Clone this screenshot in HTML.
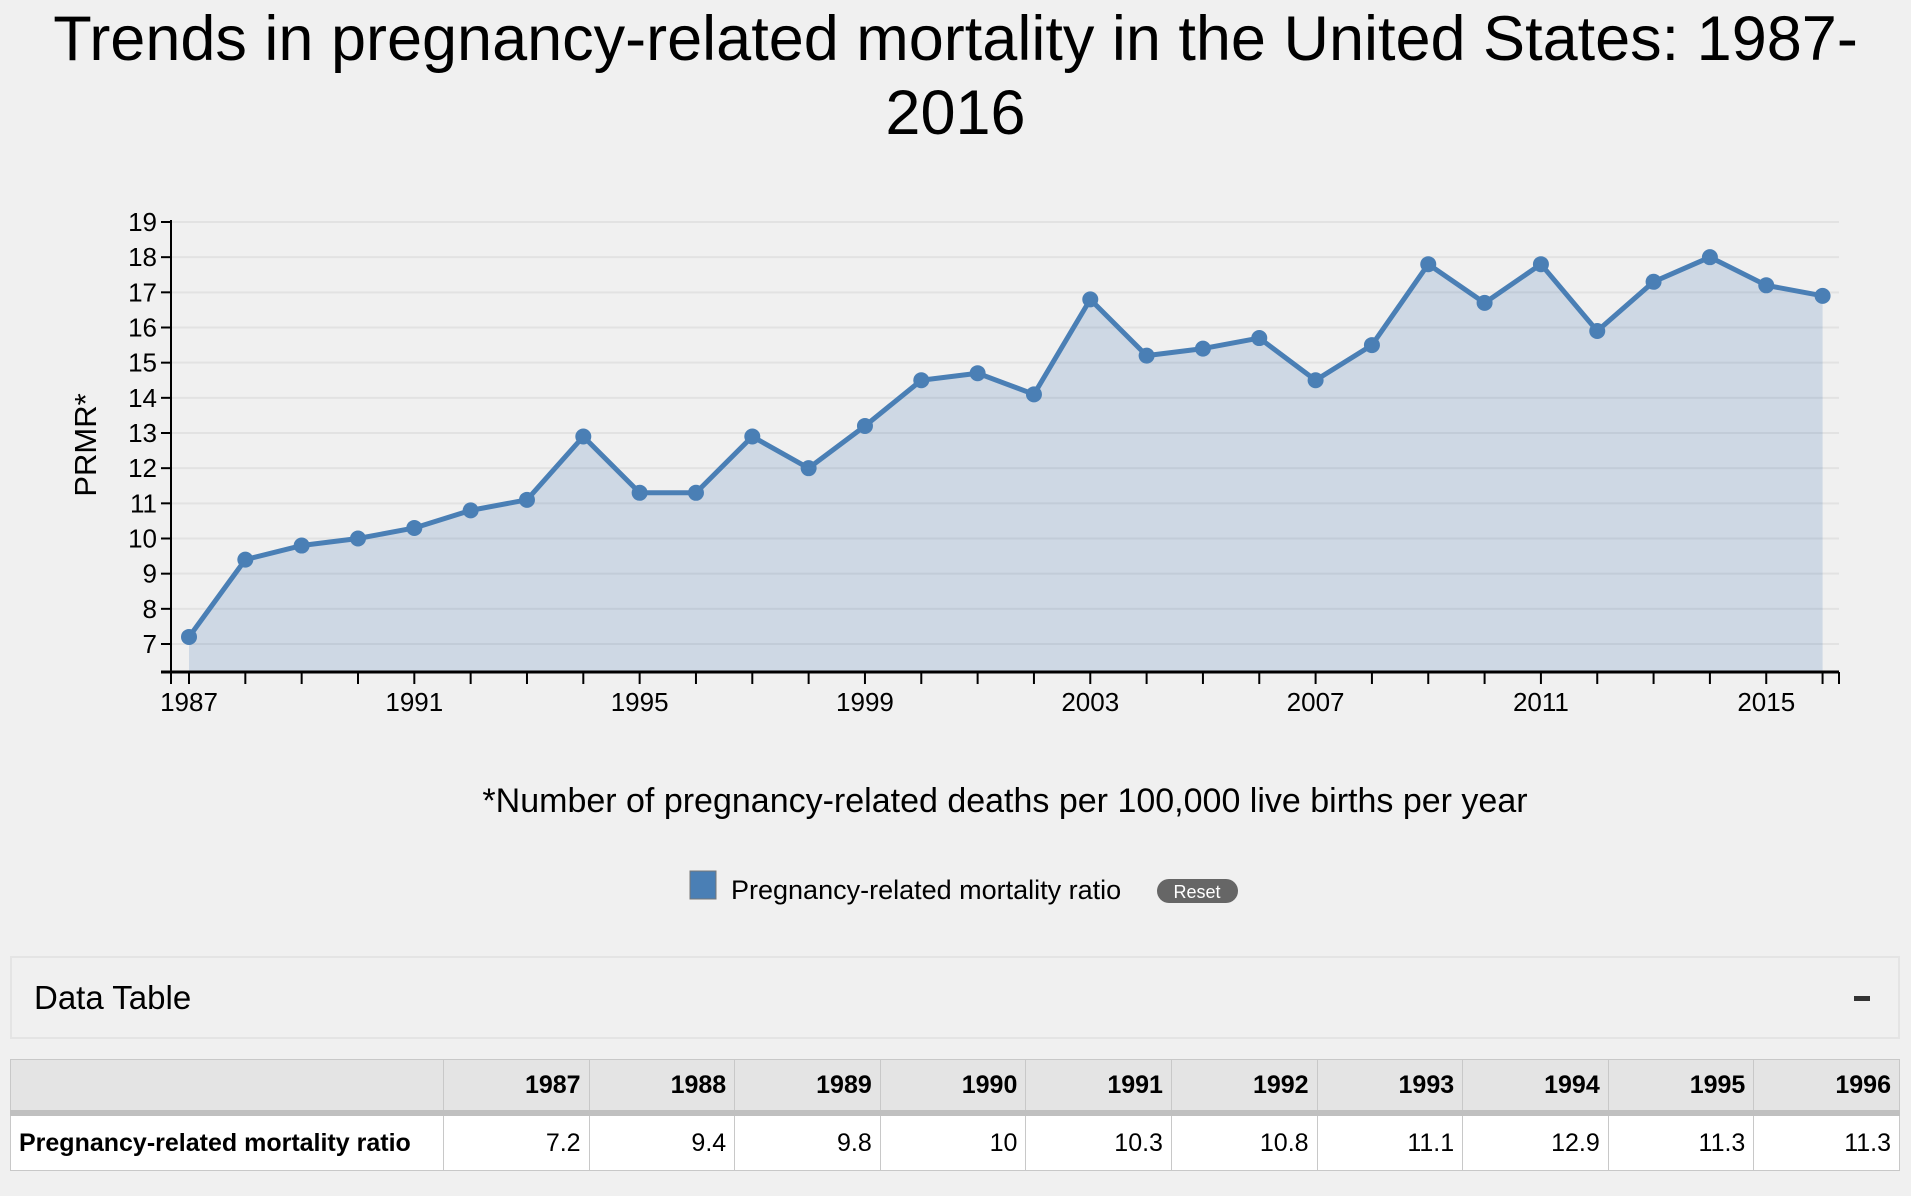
<!DOCTYPE html>
<html><head><meta charset="utf-8"><style>
body{margin:0;width:1911px;height:1196px;background:#f0f0f0;font-family:"Liberation Sans",sans-serif;overflow:hidden;position:relative}
.t{position:absolute;left:0;width:1911px;text-align:center;font-size:63px;color:#000;line-height:74px;top:2px}
svg{position:absolute;left:0;top:0}
table{position:absolute;left:10px;top:1059px;width:1890px;border-collapse:collapse;font-size:25px}
td,th{border:1px solid #c8c8c8;padding:0 8px;text-align:right}
th{background:#e4e4e4;height:50px;font-weight:bold;border-bottom:6px solid #c0c0c0}
td{background:#fff;height:54px}
</style></head><body>
<div class="t">Trends in pregnancy-related mortality in the United States: 1987-<br>2016</div>
<svg width="1911" height="1196" id="c"></svg>
<div style="position:absolute;left:10px;top:956px;width:1890px;height:83px;border:2px solid #e4e4e4;box-sizing:border-box">
<span style="position:absolute;left:22px;top:21px;font-size:33px">Data Table</span>
<span style="position:absolute;right:28px;top:38px;width:16px;height:5px;background:#333"></span></div>
<table>
<tr><th style="width:416px"></th><th>1987</th><th>1988</th><th>1989</th><th>1990</th><th>1991</th><th>1992</th><th>1993</th><th>1994</th><th>1995</th><th>1996</th></tr>
<tr><td style="text-align:left;font-weight:bold">Pregnancy-related mortality ratio</td><td>7.2</td><td>9.4</td><td>9.8</td><td>10</td><td>10.3</td><td>10.8</td><td>11.1</td><td>12.9</td><td>11.3</td><td>11.3</td></tr>
</table>
<script>
const years=[1987,1988,1989,1990,1991,1992,1993,1994,1995,1996,1997,1998,1999,2000,2001,2002,2003,2004,2005,2006,2007,2008,2009,2010,2011,2012,2013,2014,2015,2016];
const prmr=[7.2,9.4,9.8,10,10.3,10.8,11.1,12.9,11.3,11.3,12.9,12.0,13.2,14.5,14.7,14.1,16.8,15.2,15.4,15.7,14.5,15.5,17.8,16.7,17.8,15.9,17.3,18.0,17.2,16.9];
const yTicks=[7,8,9,10,11,12,13,14,15,16,17,18,19];
const xTickLabels=[1987,1991,1995,1999,2003,2007,2011,2015];
const NS='http://www.w3.org/2000/svg',svg=document.getElementById('c');
const X0=171,X1=1839,Y0=672,Y1=222;
const x=v=>189+(v-1987)*56.33;
const y=v=>Y1+(19-v)*(644-Y1)/12;
function mk(t,a){const e=document.createElementNS(NS,t);for(const k in a)e.setAttribute(k,a[k]);svg.appendChild(e);return e;}
yTicks.forEach(v=>{
 const g=mk('line',{x1:X0,x2:X1,y1:y(v),y2:y(v),stroke:'#e2e2e2','stroke-width':2});
 
 
 mk('line',{x1:X0-10,x2:X0,y1:y(v),y2:y(v),stroke:'#000','stroke-width':2});
 const t=mk('text',{x:X0-14,y:y(v)+9,'text-anchor':'end','font-size':26});t.textContent=v;
 
 
});
let d='M'+x(years[0])+','+Y0;years.forEach((yr,i)=>d+='L'+x(yr)+','+y(prmr[i]));d+='L'+x(years[years.length-1])+','+Y0+'Z';
const area=mk('path',{d:d,fill:'rgba(70,120,180,0.2)'});


const line=mk('polyline',{points:years.map((yr,i)=>x(yr)+','+y(prmr[i])).join(' '),fill:'none',stroke:'#4a7fb5','stroke-width':5,'stroke-linejoin':'round'});


years.forEach((yr,i)=>{
 const c=mk('circle',{cx:x(yr),cy:y(prmr[i]),r:8,fill:'#4a7fb5'});
 
 
 mk('line',{x1:x(yr),x2:x(yr),y1:Y0,y2:Y0+12,stroke:'#000','stroke-width':2});
});
[X0,X1].forEach(v=>mk('line',{x1:v,x2:v,y1:Y0,y2:Y0+12,stroke:'#000','stroke-width':2}));
xTickLabels.forEach(yr=>{const t=mk('text',{x:x(yr),y:Y0+39,'text-anchor':'middle','font-size':26});t.textContent=yr;
 
 });
mk('line',{x1:X0,x2:X0,y1:Y1-2,y2:Y0,stroke:'#000','stroke-width':2});
mk('line',{x1:X0-10,x2:X1,y1:Y0,y2:Y0,stroke:'#000','stroke-width':3});
const yl=mk('text',{x:0,y:0,transform:'translate(96,445) rotate(-90)','text-anchor':'middle','font-size':31});yl.textContent='PRMR*';


const fn=mk('text',{x:1005,y:812,'text-anchor':'middle','font-size':34});fn.textContent='*Number of pregnancy-related deaths per 100,000 live births per year';


const sw=mk('rect',{x:690,y:871,width:26,height:28,fill:'#4a7fb5',stroke:'#777','stroke-width':1});


const lt=mk('text',{x:731,y:899,'font-size':27});lt.textContent='Pregnancy-related mortality ratio';


const rb=mk('rect',{x:1157,y:879,width:81,height:24,rx:12,fill:'#666'});


const rt=mk('text',{x:1197,y:898,'text-anchor':'middle','font-size':18,fill:'#fff'});rt.textContent='Reset';


</script>
</body></html>
